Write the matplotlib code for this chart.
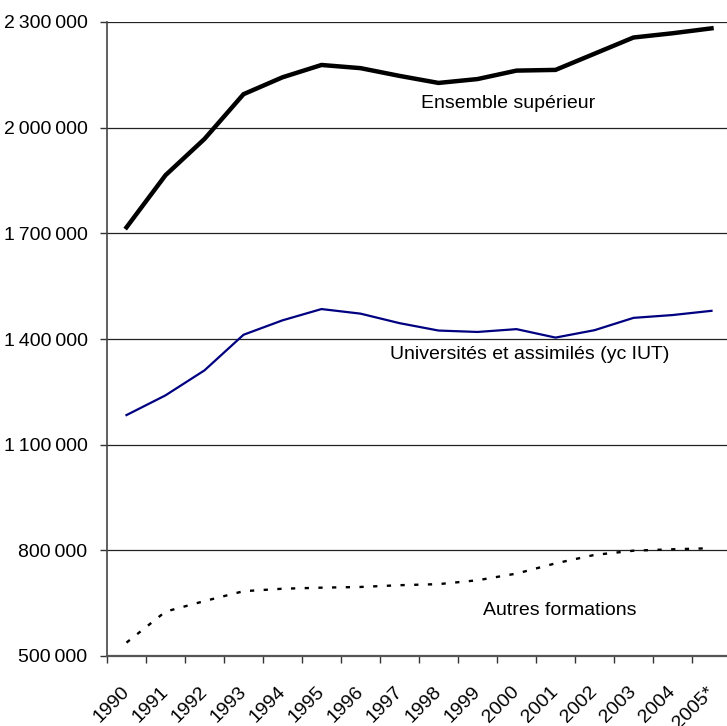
import matplotlib
matplotlib.use("Agg")
import matplotlib.pyplot as plt
from matplotlib.ticker import FuncFormatter, FixedLocator
import numpy as np

plt.rcParams["font.family"] = ["Liberation Sans", "DejaVu Sans"]
FS = 14

years = ["1990", "1991", "1992", "1993", "1994", "1995", "1996", "1997",
         "1998", "1999", "2000", "2001", "2002", "2003", "2004", "2005*"]

ensemble = [1717000, 1865000, 1968000, 2095000, 2143000, 2178000, 2169000, 2147000,
            2127000, 2138000, 2162000, 2164000, 2210000, 2256000, 2268000, 2282000]
universites = [1184000, 1240000, 1311000, 1412000, 1453000, 1485000, 1472000, 1445000,
               1424000, 1420000, 1428000, 1404000, 1425000, 1460000, 1468000, 1480000]
autres = [538000, 626000, 656000, 684000, 691000, 694000, 696000, 701000,
          704000, 715000, 734000, 763000, 787000, 799000, 803000, 806000]

fig = plt.figure(figsize=(7.27, 7.26), dpi=100)
ax = fig.add_axes([107 / 727, 1 - 656 / 726, 624 / 727, 634 / 726])

x = np.arange(len(years)) + 0.5
ax.plot(x, ensemble, color="black", lw=3.2, solid_joinstyle="miter", zorder=3)
ax.plot(x, universites, color="#000080", lw=1.6, zorder=3)
ax.plot(x, autres, color="black", lw=1.7, linestyle=(0, (1.8, 4.0)), zorder=3)

ax.set_xlim(0, len(years))
ax.set_ylim(500000, 2300000)
yt = np.arange(500000, 2300001, 300000)
ax.set_yticks(yt)
# thin spaces as thousands separator, like the original
ax.yaxis.set_major_formatter(FuncFormatter(lambda v, p: f"{int(v):,}".replace(",", "\u2009")))
ax.grid(axis="y", color="#222222", lw=0.9)
ax.set_axisbelow(True)

# ticks at category edges, labels at centres
ax.xaxis.set_major_locator(FixedLocator(np.arange(0, len(years) + 1)))
ax.xaxis.set_minor_locator(FixedLocator(x))
ax.set_xticklabels([])
ax.set_xticklabels(years, minor=True, rotation=45, ha="right", va="center",
                   rotation_mode="anchor", fontsize=FS)
ax.tick_params(axis="x", which="major", length=5, width=1, color="#333333")
ax.tick_params(axis="x", which="minor", length=0, pad=24)
ax.tick_params(axis="y", length=5, width=1, color="#333333", labelsize=FS, pad=9)

for s in ["top", "right"]:
    ax.spines[s].set_visible(False)
ax.spines["left"].set_color("#444444")
ax.spines["left"].set_linewidth(1.2)
ax.spines["bottom"].set_color("#555555")
ax.spines["bottom"].set_linewidth(1.6)

ax.text(10.28, 2068000, "Ensemble supérieur", fontsize=FS, ha="center", va="center")
ax.text(10.85, 1355000, "Universités et assimilés (yc IUT)", fontsize=FS, ha="center", va="center")
ax.text(11.6, 628000, "Autres formations", fontsize=FS, ha="center", va="center")

fig.savefig("out.png", dpi=100)
